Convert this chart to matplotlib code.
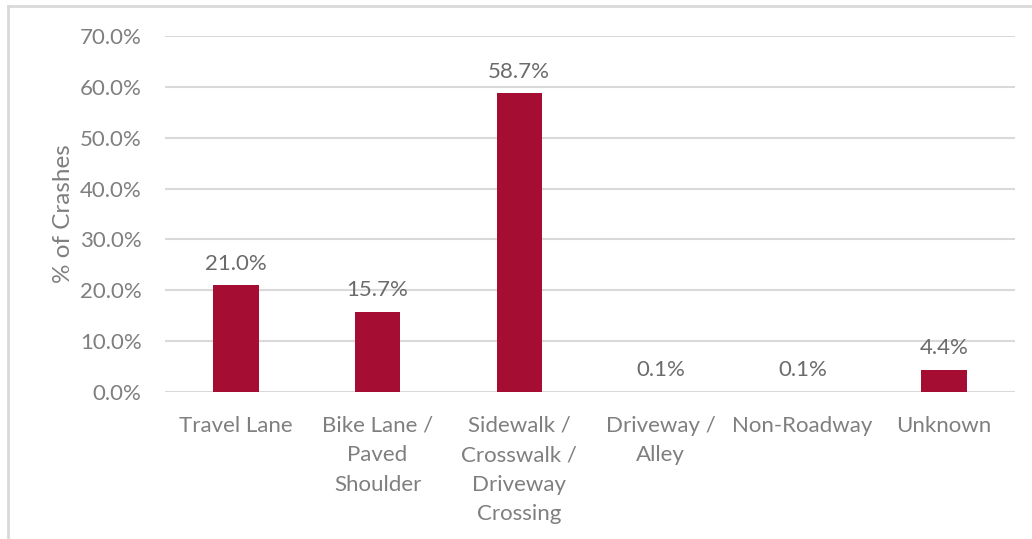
import matplotlib
matplotlib.use("Agg")
import matplotlib.pyplot as plt
from matplotlib.lines import Line2D

categories = ["Travel Lane", "Bike Lane /\nPaved\nShoulder", "Sidewalk /\nCrosswalk /\nDriveway\nCrossing",
              "Driveway /\nAlley", "Non-Roadway", "Unknown"]
values = [21.0, 15.7, 58.7, 0.1, 0.1, 4.4]
value_labels = ["21.0%", "15.7%", "58.7%", "0.1%", "0.1%", "4.4%"]
yticks = [0, 10, 20, 30, 40, 50, 60, 70]
ytick_labels = ["0.0%", "10.0%", "20.0%", "30.0%", "40.0%", "50.0%", "60.0%", "70.0%"]

plt.rcParams['font.family'] = ['Lato', 'DejaVu Sans']
fig = plt.figure(figsize=(10.32, 5.39), dpi=100)
ax = fig.add_axes([0.16, 0.2727, 0.8235, 0.6605])

x = list(range(len(categories)))
bar_color = "#A50D32"
ax.bar(x, values, width=0.32, color=bar_color, zorder=3)
for xi, v, lab in zip(x, values, value_labels):
    ax.text(xi, v + 2.3, lab, ha="center", va="bottom", fontsize=16, color="#6b6b6b")

ax.set_xlim(-0.5, len(categories) - 0.5)
ax.set_ylim(0, 70)
ax.set_yticks(yticks)
ax.set_yticklabels(ytick_labels, fontsize=16, color="#7f7f7f")
ax.set_xticks(x)
ax.set_xticklabels(categories, fontsize=16, color="#7f7f7f", linespacing=1.6, va="top")
ax.tick_params(axis="both", length=0)
ax.tick_params(axis="y", pad=17)
ax.tick_params(axis="x", pad=17)
ax.yaxis.grid(True, color="#d9d9d9", linewidth=1.5, zorder=0)
ax.set_axisbelow(True)
for s in ax.spines.values():
    s.set_visible(False)
ax.set_ylabel("% of Crashes", fontsize=17.5, color="#7f7f7f")
ax.yaxis.set_label_coords(-0.107, 0.5)

# chart frame (top and left visible)
fig.add_artist(Line2D([8/1032, 1.0], [1-6/539, 1-6/539], color="#d9d9d9", linewidth=2, transform=fig.transFigure))
fig.add_artist(Line2D([8/1032, 8/1032], [0, 1-6/539], color="#d9d9d9", linewidth=2, transform=fig.transFigure))

fig.savefig("out.png", dpi=100)
